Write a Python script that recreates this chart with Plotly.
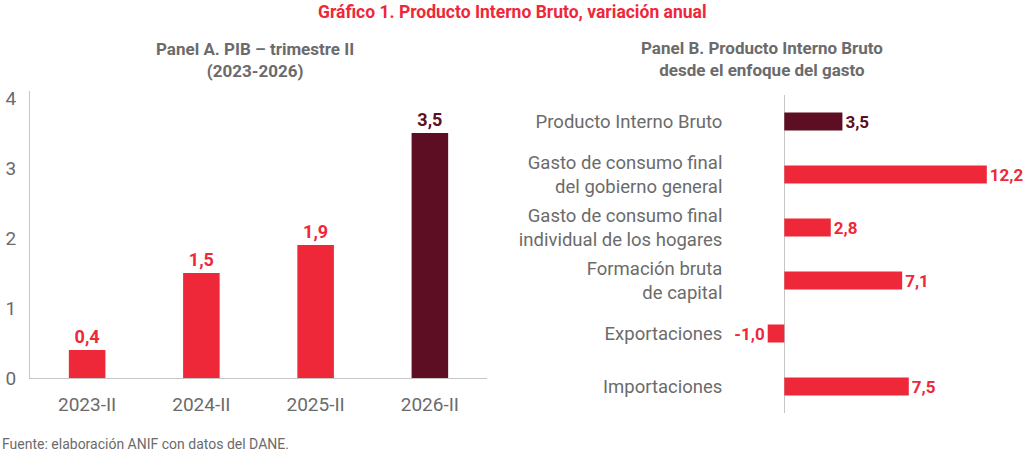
#!/usr/bin/env python3

# Libraries
import plotly.graph_objects as go

# Data: Panel A
trimestres = ['2023-II', '2024-II', '2025-II', '2026-II']
pib_trim   = [0.4, 1.5, 1.9, 3.5]

# Data: Panel B
componentes = ['Producto Interno Bruto',
               'Gasto de consumo final<br>del gobierno general',
               'Gasto de consumo final<br>individual de los hogares',
               'Formación bruta<br>de capital',
               'Exportaciones',
               'Importaciones']
variacion = [3.5, 12.2, 2.8, 7.1, -1.0, 7.5]

# Colours
rojo   = '#ee2839'
vino   = '#5e0e22'
gris   = '#6b6b6b'
linea  = '#c6c6c6'
fuente = 'Roboto'

colores_a = [rojo, rojo, rojo, vino]
colores_b = [vino, rojo, rojo, rojo, rojo, rojo]

def fmt(v):
    return f'{v:.1f}'.replace('.', ',')

W, H = 1024, 451

# Create figure
fig = go.Figure()

# Panel A bars
fig.add_trace(go.Bar(
    x = trimestres, y = pib_trim,
    marker = dict(color = colores_a, line = dict(width = 0)),
    width = 0.32,
    text = [fmt(v) for v in pib_trim],
    textposition = 'outside',
    constraintext = 'none',
    textfont = dict(family = fuente, size = 18, color = colores_a, weight = 'bold'),
    cliponaxis = False,
    xaxis = 'x', yaxis = 'y',
    showlegend = False
))

# Panel B bars
fig.add_trace(go.Bar(
    x = variacion, y = componentes, orientation = 'h',
    marker = dict(color = colores_b, line = dict(width = 0)),
    width = 0.34,
    text = [fmt(v) for v in variacion],
    textposition = 'outside',
    constraintext = 'none',
    textfont = dict(family = fuente, size = 17, color = colores_b, weight = 'bold'),
    cliponaxis = False,
    xaxis = 'x2', yaxis = 'y2',
    showlegend = False
))

# Titles and source
anotaciones = [
    dict(text = '<b>Gráfico 1. Producto Interno Bruto, variación anual</b>',
         x = 512 / W, y = 1 - 12 / H, font = dict(size = 17.5, color = rojo)),
    dict(text = '<b>Panel A. PIB – trimestre II<br>(2023-2026)</b>',
         x = 255 / W, y = 1 - 60 / H, font = dict(size = 17, color = gris)),
    dict(text = '<b>Panel B. Producto Interno Bruto<br>desde el enfoque del gasto</b>',
         x = 762 / W, y = 1 - 59 / H, font = dict(size = 17, color = gris)),
]
for a in anotaciones:
    a.update(xref = 'paper', yref = 'paper', showarrow = False,
             xanchor = 'center', yanchor = 'middle')

anotaciones.append(dict(
    text = 'Fuente: elaboración ANIF con datos del DANE.',
    x = 0, y = 1 - 444 / H, xref = 'paper', yref = 'paper',
    xanchor = 'left', yanchor = 'middle', showarrow = False,
    font = dict(size = 14, color = gris)
))

# Update layout
fig.update_layout(
    width  = W,
    height = H,
    margin = dict(l = 0, r = 0, t = 0, b = 0),

    xaxis = dict(
        domain    = [30 / W, 487 / W],
        showgrid  = False,
        showline  = True,
        linecolor = linea,
        linewidth = 1,
        ticks     = '',
        ticklabelstandoff = 9,
        tickfont  = dict(size = 19, color = gris),
        fixedrange = True
    ),
    yaxis = dict(
        domain    = [1 - 378 / H, 1 - 91 / H],
        range     = [0, 4.1],
        tickvals  = [0, 1, 2, 3, 4],
        showgrid  = False,
        zeroline  = False,
        showline  = True,
        linecolor = linea,
        linewidth = 1,
        ticks     = '',
        ticklabelstandoff = 9,
        tickfont  = dict(size = 19, color = gris)
    ),

    xaxis2 = dict(
        domain    = [759.4 / W, 1016.7 / W],
        range     = [-1.5, 14],
        anchor    = 'y2',
        visible   = True,
        showticklabels = False,
        showgrid  = False,
        zeroline  = True,
        zerolinecolor = linea,
        zerolinewidth = 1,
        showline  = False,
        ticks     = ''
    ),
    yaxis2 = dict(
        domain    = [1 - 413 / H, 1 - 95 / H],
        anchor    = 'x2',
        autorange = 'reversed',
        showgrid  = False,
        zeroline  = False,
        showline  = False,
        ticks     = '',
        ticklabelstandoff = 36,
        tickfont  = dict(size = 18.5, color = gris)
    ),

    annotations = anotaciones,
    plot_bgcolor  = 'white',
    paper_bgcolor = 'white',
    font = dict(family = fuente, size = 17, color = gris),
    template = None
)

# Remove the default page margin so the figure sits at the top-left corner
fig.write_html('out.html', config = dict(displayModeBar = False),
               post_script = "document.body.style.margin = '0';")
